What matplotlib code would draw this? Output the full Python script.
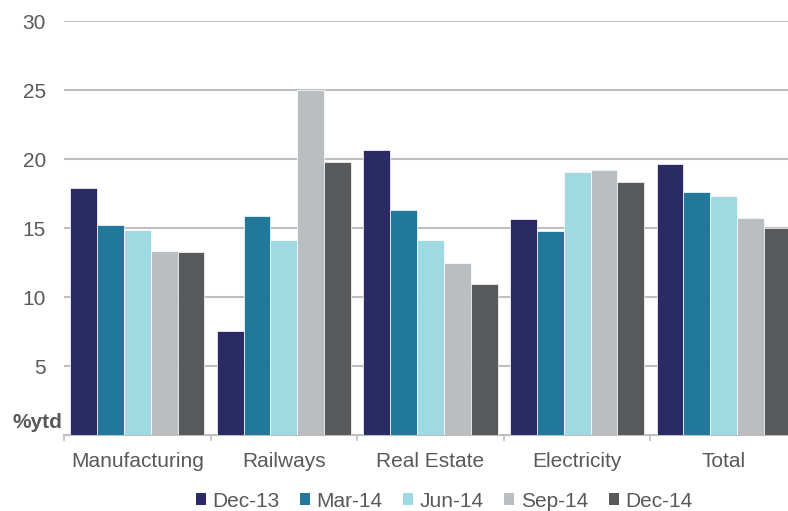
import numpy as np
import matplotlib
matplotlib.use("Agg")
import matplotlib.pyplot as plt
from matplotlib.patches import Patch

plt.rcParams["font.family"] = ["Liberation Sans", "DejaVu Sans"]

categories = ["Manufacturing", "Railways", "Real Estate", "Electricity", "Total"]
series_names = ["Dec-13", "Mar-14", "Jun-14", "Sep-14", "Dec-14"]
dec13 = [17.9, 7.55, 20.65, 15.65, 19.65]
mar14 = [15.2, 15.9, 16.3, 14.8, 17.6]
jun14 = [14.85, 14.15, 14.1, 19.05, 17.35]
sep14 = [13.35, 25.0, 12.5, 19.2, 15.7]
dec14 = [13.25, 19.75, 10.95, 18.3, 15.0]
series_values = [dec13, mar14, jun14, sep14, dec14]
colors = ["#2A2A64", "#21789A", "#9FD9E1", "#BBBEC1", "#58595B"]

TEXT = "#595959"
GRID = "#BFBFBF"
FS = 15

fig = plt.figure(figsize=(7.88, 5.11), dpi=100)
ax = fig.add_axes([64 / 788, 76 / 511, 733 / 788, 414 / 511])

x = np.arange(len(categories))
bw = 0.183
for i, (name, vals, c) in enumerate(zip(series_names, series_values, colors)):
    ax.bar(x + (i - 2) * bw, vals, width=bw, color=c, edgecolor="white",
           linewidth=0.5, label=name, zorder=3)

ax.set_xlim(-0.5, len(categories) - 0.5)
ax.set_ylim(0, 30)
ax.set_yticks([5, 10, 15, 20, 25, 30])
ax.yaxis.grid(True, color=GRID, linewidth=1.5, zorder=0)
ax.tick_params(axis="y", length=0, pad=13, labelsize=FS, labelcolor=TEXT)

ax.set_xticks(x)
ax.set_xticklabels(categories)
ax.set_xticks(np.arange(-0.5, len(categories)), minor=True)
ax.tick_params(axis="x", which="major", length=0, pad=12, labelsize=FS,
               labelcolor=TEXT)
ax.tick_params(axis="x", which="minor", length=4, width=1.2, color=GRID)

for s in ["top", "right", "left"]:
    ax.spines[s].set_visible(False)
ax.spines["bottom"].set_color(GRID)
ax.spines["bottom"].set_linewidth(1.5)

ax.annotate("%ytd", xy=(0, 0), xycoords=("axes fraction", "data"),
            xytext=(-1.5, 9), textcoords="offset points", ha="right",
            va="center", fontsize=FS, fontweight="bold", color=TEXT)

handles = [Patch(facecolor=c) for c in colors]
fig.legend(handles, series_names, loc="center", bbox_to_anchor=(444 / 788, 10 / 511),
           ncol=5, frameon=False, fontsize=FS, handlelength=0.48,
           handleheight=0.48, handletextpad=0.3, columnspacing=1.0,
           labelcolor=TEXT)

fig.savefig("out.png", dpi=100)
